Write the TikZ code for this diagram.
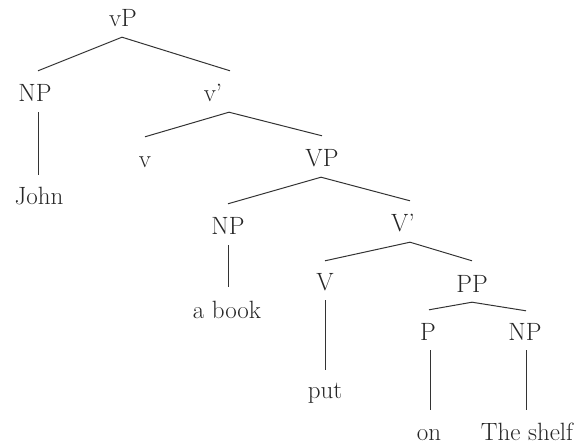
\documentclass[tikz,border=0pt]{standalone}
\usepackage{fontspec}
\begin{document}
\begin{tikzpicture}[x=1pt,y=-1pt,
  lbl/.style={anchor=base,inner sep=0pt,text height=31pt,text depth=10pt,
    font=\fontsize{25}{30}\selectfont,text=black!85},
  edge/.style={draw=black!80,line width=1pt}]
\useasboundingbox (0,0) rectangle (583,446);
\node[lbl] (vP) at (123,27) {vP};
\node[lbl] (NPa) at (35,102) {NP};
\node[lbl] (vbar) at (213,102) {v’};
\node[lbl] (John) at (39,205) {John};
\node[lbl] (v) at (145,168) {v};
\node[lbl] (VP) at (322,167) {VP};
\node[lbl] (NPb) at (228,235) {NP};
\node[lbl] (Vbar) at (403,232) {V’};
\node[lbl] (abook) at (227,318) {a book};
\node[lbl] (V) at (325,290) {V};
\node[lbl] (PP) at (472,292) {PP};
\node[lbl] (put) at (325,398) {put};
\node[lbl] (P) at (428,340) {P};
\node[lbl] (NPc) at (525,340) {NP};
\node[lbl] (on) at (429,440) {on};
\node[lbl] (shelf) at (527,440) {The shelf};

\path[edge] ([xshift=-1pt]vP.south) -- ([xshift=3pt]NPa.north);
\path[edge] ([xshift=-1pt]vP.south) -- ([xshift=17pt]vbar.north);
\path[edge] ([xshift=3pt]NPa.south) -- ([xshift=-1pt,yshift=-1pt]John.north);
\path[edge] ([xshift=16pt]vbar.south) -- (v.north);
\path[edge] ([xshift=16pt]vbar.south) -- (VP.north);
\path[edge] ([xshift=-1pt]VP.south) -- (NPb.north);
\path[edge] ([xshift=-1pt]VP.south) -- ([xshift=7pt]Vbar.north);
\path[edge] (NPb.south) -- ([xshift=1pt]abook.north);
\path[edge] ([xshift=7pt]Vbar.south) -- ([yshift=-2pt]V.north);
\path[edge] ([xshift=7pt]Vbar.south) -- (PP.north);
\path[edge] (V.south) -- ([yshift=-3pt]put.north);
\path[edge] (PP.south) -- ([xshift=1pt,yshift=-1pt]P.north);
\path[edge] (PP.south) -- ([xshift=1pt,yshift=-2pt]NPc.north);
\path[edge] ([xshift=2pt]P.south) -- ([xshift=1pt,yshift=-1pt]on.north);
\path[edge] ([xshift=1pt]NPc.south) -- ([xshift=-1pt,yshift=-1pt]shelf.north);
\end{tikzpicture}
\end{document}
